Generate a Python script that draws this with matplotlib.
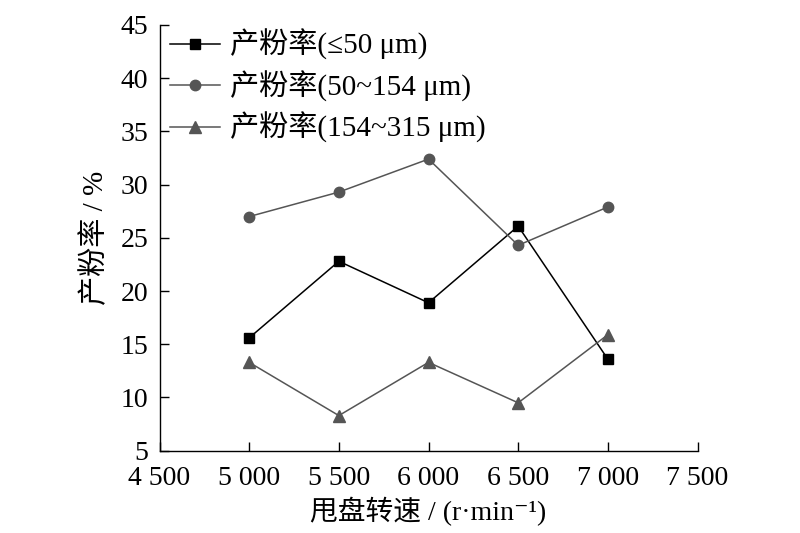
import matplotlib
matplotlib.use("Agg")
import matplotlib.pyplot as plt

plt.rcParams['font.family'] = ['Liberation Serif', 'Noto Sans CJK SC', 'DejaVu Sans']

# data
speed = [5000, 5500, 6000, 6500, 7000]
rate_fine = [15.6, 22.8, 18.9, 26.1, 13.6]      # <=50 um
rate_mid = [27.0, 29.3, 32.4, 24.3, 27.9]       # 50~154 um
rate_coarse = [13.3, 8.3, 13.3, 9.5, 15.9]      # 154~315 um

x_ticks = [4500, 5000, 5500, 6000, 6500, 7000, 7500]
x_tick_labels = ["4 500", "5 000", "5 500", "6 000", "6 500", "7 000", "7 500"]
y_ticks = [5, 10, 15, 20, 25, 30, 35, 40, 45]

fig = plt.figure(figsize=(8, 5.33), dpi=100)
ax = fig.add_axes([0.1994, 0.1544, 0.6725, 0.7987])

ax.plot(speed, rate_fine, color="black", marker="s", markersize=6.5, lw=1.1,
        label="产粉率(≤50 μm)")
ax.plot(speed, rate_mid, color="#555555", marker="o", markersize=7.5, lw=1.1,
        label="产粉率(50~154 μm)")
ax.plot(speed, rate_coarse, color="#555555", marker="^", markersize=9, lw=1.1,
        label="产粉率(154~315 μm)")

ax.set_xlim(4500, 7500)
ax.set_ylim(5, 45)
ax.set_xticks(x_ticks)
ax.set_xticklabels(x_tick_labels)
ax.set_yticks(y_ticks)
ax.tick_params(direction="in", length=6.5, width=1.0, labelsize=20)
ax.tick_params(axis="x", pad=11)
ax.tick_params(axis="y", pad=8)

for s in ["top", "right"]:
    ax.spines[s].set_visible(False)
for s in ["left", "bottom"]:
    ax.spines[s].set_linewidth(1.0)

ax.set_xlabel("甩盘转速 / (r·min⁻¹)", fontsize=20, labelpad=4)
ax.set_ylabel("产粉率 / %", fontsize=21, labelpad=8)

ax.legend(loc="upper left", frameon=False, fontsize=21, handlelength=1.7,
          handletextpad=0.35, labelspacing=0.35, borderaxespad=0, borderpad=0,
          bbox_to_anchor=(0.02, 0.99))

fig.savefig("out.png", dpi=100)
